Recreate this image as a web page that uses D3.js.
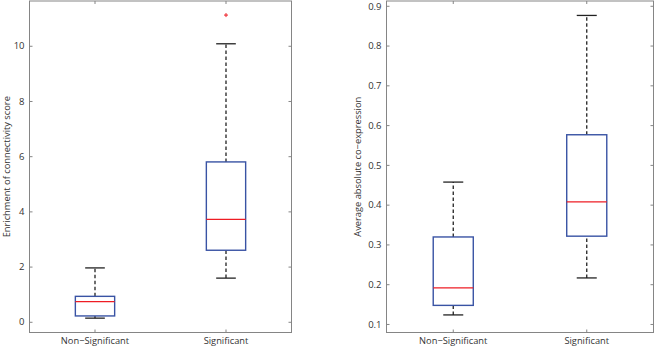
<!DOCTYPE html>
<html>
<head>
<meta charset="utf-8">
<script src="https://cdn.jsdelivr.net/npm/d3@7"></script>
<style>
  body { margin: 0; background: #fff; }
  text { font-family: "Open Sans", "DejaVu Sans", sans-serif; fill: #333; }
</style>
</head>
<body>
<svg id="chart" width="654" height="346"></svg>
<script>
// categories and box stats
var categories = ["Non\u2212Significant", "Significant"];

// panel 1: enrichment of connectivity score
var enrichLow   = [0.15, 1.60];
var enrichQ1    = [0.23, 2.61];
var enrichMed   = [0.75, 3.73];
var enrichQ3    = [0.94, 5.81];
var enrichHigh  = [1.97, 10.09];
var enrichOut   = [[], [11.13]];
var enrichTicks = [0, 2, 4, 6, 8, 10];

// panel 2: average absolute co-expression
var coexLow   = [0.124, 0.217];
var coexQ1    = [0.148, 0.322];
var coexMed   = [0.192, 0.408];
var coexQ3    = [0.320, 0.577];
var coexHigh  = [0.458, 0.877];
var coexOut   = [[], []];
var coexTicks = [0.1, 0.2, 0.3, 0.4, 0.5, 0.6, 0.7, 0.8, 0.9];

var svg = d3.select("#chart");

var axisCol = "#858585",
	boxCol = "#3953a4",
	medCol = "#ee1c24";

function drawPanel(opt) {
	var x = d3.scaleLinear().domain([0.5, 2.5]).range([opt.left, opt.right]);
	var y = d3.scaleLinear().domain(opt.ydom).range([opt.bottom, opt.top]);
	var g = svg.append("g");

	// ticks inside, on all four sides (matlab box on)
	opt.ticks.forEach(function(t) {
		g.append("line").attr("x1", opt.left).attr("x2", opt.left + 3)
			.attr("y1", y(t)).attr("y2", y(t)).attr("stroke", axisCol);
		g.append("line").attr("x1", opt.right).attr("x2", opt.right - 3)
			.attr("y1", y(t)).attr("y2", y(t)).attr("stroke", axisCol);
		g.append("text").attr("x", opt.left - 5).attr("y", y(t) + 3.2)
			.attr("text-anchor", "end").style("font-size", "9.5px")
			.text(opt.fmt(t));
	});
	categories.forEach(function(c, i) {
		g.append("line").attr("x1", x(i + 1)).attr("x2", x(i + 1))
			.attr("y1", opt.bottom).attr("y2", opt.bottom - 3).attr("stroke", axisCol);
		g.append("line").attr("x1", x(i + 1)).attr("x2", x(i + 1))
			.attr("y1", opt.top).attr("y2", opt.top + 3).attr("stroke", axisCol);
		g.append("text").attr("x", x(i + 1)).attr("y", opt.bottom + 11)
			.attr("text-anchor", "middle").style("font-size", "9.3px")
			.text(c);
	});

	// boxes
	categories.forEach(function(c, i) {
		var cx = x(i + 1);
		var bw = x(1.15) - x(1),
			cw = x(1.075) - x(1);
		// whiskers
		[[opt.q3[i], opt.high[i]], [opt.low[i], opt.q1[i]]].forEach(function(seg) {
			g.append("line").attr("x1", cx).attr("x2", cx)
				.attr("y1", y(seg[0])).attr("y2", y(seg[1]))
				.attr("stroke", "#222").attr("stroke-width", 1.3)
				.attr("stroke-dasharray", "3.5,2.5");
		});
		[opt.high[i], opt.low[i]].forEach(function(v) {
			g.append("line").attr("x1", cx - cw).attr("x2", cx + cw)
				.attr("y1", y(v)).attr("y2", y(v))
				.attr("stroke", "#222").attr("stroke-width", 1.3);
		});
		g.append("rect").attr("x", cx - bw).attr("width", bw * 2)
			.attr("y", y(opt.q3[i])).attr("height", y(opt.q1[i]) - y(opt.q3[i]))
			.attr("fill", "none").attr("stroke", boxCol).attr("stroke-width", 1.4);
		g.append("line").attr("x1", cx - bw).attr("x2", cx + bw)
			.attr("y1", y(opt.med[i])).attr("y2", y(opt.med[i]))
			.attr("stroke", medCol).attr("stroke-width", 1.3);
		opt.out[i].forEach(function(v) {
			g.append("path").attr("d", "M" + (cx - 2) + "," + y(v) + "h4M" + cx + "," + (y(v) - 2) + "v4")
				.attr("stroke", medCol).attr("stroke-width", 1);
		});
	});

	// frame
	g.append("rect").attr("x", opt.left).attr("y", opt.top)
		.attr("width", opt.right - opt.left).attr("height", opt.bottom - opt.top)
		.attr("fill", "none").attr("stroke", axisCol).attr("stroke-width", 1);

	g.append("text")
		.attr("transform", "translate(" + opt.labelX + "," + ((opt.top + opt.bottom) / 2) + ") rotate(-90)")
		.attr("text-anchor", "middle").style("font-size", "9.3px")
		.text(opt.label);
}

drawPanel({
	left: 29.5, right: 291.5, top: 1, bottom: 332.5,
	ydom: [-0.37, 11.64], ticks: enrichTicks, fmt: d3.format("d"),
	low: enrichLow, q1: enrichQ1, med: enrichMed, q3: enrichQ3, high: enrichHigh, out: enrichOut,
	label: "Enrichment of connectivity score", labelX: 10
});

drawPanel({
	left: 386.5, right: 653.5, top: 1, bottom: 332.5,
	ydom: [0.0798, 0.9133], ticks: coexTicks, fmt: d3.format(".1f"),
	low: coexLow, q1: coexQ1, med: coexMed, q3: coexQ3, high: coexHigh, out: coexOut,
	label: "Average absolute co\u2212expression", labelX: 361
});
</script>
</body>
</html>
